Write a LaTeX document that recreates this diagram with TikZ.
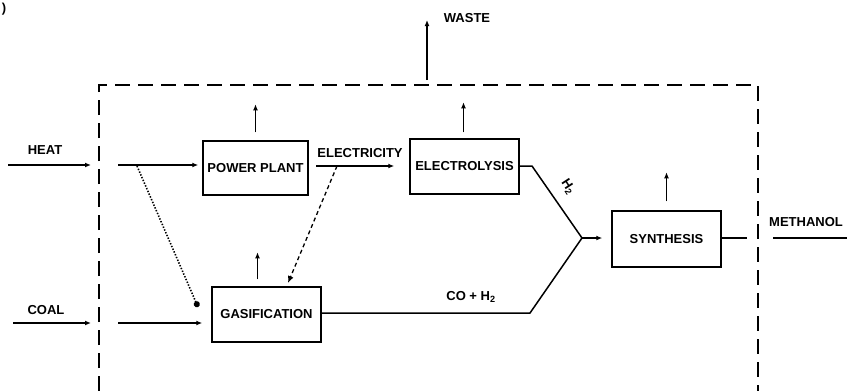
\documentclass[tikz,border=0pt]{standalone}
\usepackage{fontspec}
\setmainfont{Liberation Sans}
\usepackage{tikz}
\usetikzlibrary{arrows.meta, positioning, calc}
\tikzset{
  procbox/.style={
    rectangle, draw=black, line width=1.5pt,
    minimum width=109pt, minimum height=55pt,
    inner sep=0pt, font=\fontsize{13}{15}\selectfont\bfseries
  },
  lbl/.style={inner sep=0pt, font=\fontsize{13}{15}\selectfont\bfseries},
  flow/.style={line width=1.5pt},
  arrow/.style={-{Latex[length=6pt,width=5pt]}, line width=1.5pt},
  arrowD/.style={-{Latex[length=7pt,width=6pt]}, line width=1.3pt, dash pattern=on 4pt off 3pt},
  arrowT/.style={-{Circle[length=6pt]}, line width=1.6pt, dash pattern=on 1.4pt off 1.6pt},
  boundary/.style={line width=1.5pt, dash pattern=on 15pt off 8pt}
}
\begin{document}
\begin{tikzpicture}[x=1pt, y=-1pt]
  \useasboundingbox (0,0) rectangle (847,391);

  % Process boxes
  \node[procbox, minimum width=105pt, minimum height=54pt] (pp) at (255.5,168) {POWER PLANT};
  \node[procbox] (el) at (464.5,166.5) {ELECTROLYSIS};
  \node[procbox, minimum height=56pt] (sy) at (666.5,239) {SYNTHESIS};
  \node[procbox] (ga) at (266.5,314.5) {GASIFICATION};

  % Labels
  \node[lbl] (clip) at (4,9) {)};
  \node[lbl] (heat) at (45,150) {HEAT};
  \node[lbl] (coal) at (46,310) {COAL};
  \node[lbl] (waste) at (467,18) {WASTE};
  \node[lbl] (elec) at (360,153) {ELECTRICITY};
  \node[lbl] (coh) at (471,297) {CO + H\textsubscript{2}};
  \node[lbl, rotate=-57] (htwo) at (568,187) {H\textsubscript{2}};
  \node[lbl] (meth) at (806,222) {METHANOL};

  % Boundary (dashed)
  \coordinate (bl) at (99,391);
  \coordinate (tl) at (99,85);
  \coordinate (tr) at (758,85);
  \coordinate (br) at (758,391);
  \draw[boundary] (bl) -- (tl) -- (tr) -- (br);

  % Inputs
  \coordinate (heatA) at (8,165);
  \coordinate (heatB) at (91,165);
  \coordinate (heatC) at (118,165);
  \coordinate (coalA) at (13,323);
  \coordinate (coalB) at (91,323);
  \coordinate (coalC) at (118,323);
  \draw[arrow] (heatA) -- (heatB);
  \draw[arrow, shorten >=4pt] (heatC) -- (heatC -| pp.west);
  \draw[arrow] (coalA) -- (coalB);
  \draw[arrow, shorten >=9pt] (coalC) -- (coalC -| ga.west);

  % Cross links
  \coordinate (dotA) at (137,166);
  \coordinate (dotB) at (198,307);
  \draw[arrowT] (dotA) -- (dotB);
  \coordinate (elA) at (316,166);
  \coordinate (elB) at (337,166);
  \coordinate (gaT) at (288,283);
  \draw[arrow, shorten >=15pt] (elA) -- (elA -| el.west);
  \draw[arrowD] (elB) -- (gaT);

  % Hydrogen and syngas to synthesis
  \coordinate (hKnee) at (532,166);
  \coordinate (cKnee) at (530,313);
  \coordinate (join) at (582,238);
  \draw[flow] (el.east |- hKnee) -- (hKnee) -- (join);
  \draw[flow] (ga.east |- cKnee) -- (cKnee) -- (join);
  \draw[arrow, shorten >=9pt] (join) -- (join -| sy.west);

  % Product
  \coordinate (syOut) at (747,238);
  \coordinate (mA) at (773,238);
  \coordinate (mB) at (847,238);
  \draw[flow] (sy.east |- syOut) -- (syOut);
  \draw[flow] (mA) -- (mB);

  % Waste arrows
  \foreach \b/\dx/\gap/\len in {pp/0/8/28, el/-1/6/30, sy/0/9/29, ga/-9/7/27} {
    \draw[arrow] ($(\b.north)+(\dx,-\gap)$) -- ++(0,-\len);
  }
  \coordinate (wA) at (427,80);
  \coordinate (wB) at (427,20);
  \draw[arrow] (wA) -- (wB);
\end{tikzpicture}
\end{document}
